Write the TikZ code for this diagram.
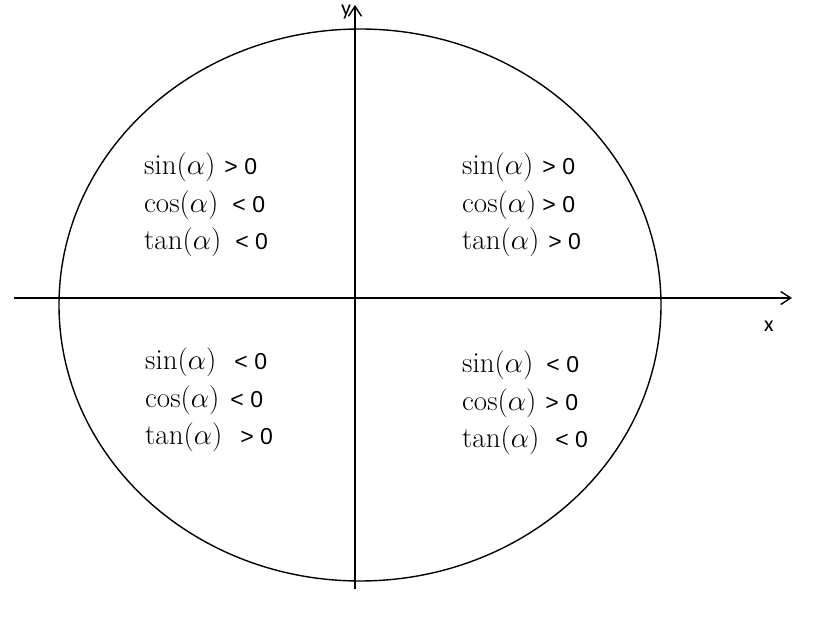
\documentclass[tikz,border=0pt]{standalone}
\usepackage{fix-cm}
\usepackage{fontspec}
\newfontfamily\signfont{Liberation Sans}
\newfontfamily\carlito{Carlito}
\usetikzlibrary{arrows.meta}
%% a trig function of alpha, set larger than the sign next to it
\newcommand{\trig}[2]{{\fontsize{29}{29}\selectfont$#1(\alpha)$}\hspace{#2pt}}
\begin{document}
\begin{tikzpicture}[x=1pt, y=1pt,
    signs/.style={font=\signfont\fontsize{23}{37.5}\selectfont, align=left,
                  inner sep=0pt, anchor=west},
    axislabel/.style={font=\carlito\fontsize{22}{24}\selectfont},
    axisline/.style={line width=1.4pt, -{Straight Barb[length=10pt,width=13pt]}}]
        \useasboundingbox (0,0) rectangle (815,619);
        \begin{scope}[shift={(0,0)}]
          %% unit circle
          \draw[line width=1.4pt] (360,314) ellipse [x radius=301, y radius=276];

          %% axis
          \coordinate (x left) at (14,321);
          \coordinate (x right) at (792,321);
          \coordinate (y bottom) at (355,30);
          \coordinate (y top) at (355,614);
          \draw[axisline] (x left) -- (x right);
          \draw[axisline] (y bottom) -- (y top);
          \node[axislabel] (x label) at (769,293) {x};
          \node[axislabel] (y label) at (346,607) {y};

          %% signs in the quadrants
          \node[signs] (quad one) at (462,414)
              {\trig{\sin}{9}> 0\\ \trig{\cos}{6}> 0\\ \trig{\tan}{9}> 0};
          \node[signs] (quad two) at (144,414)
              {\trig{\sin}{9}> 0\\ \trig{\cos}{14}< 0\\ \trig{\tan}{14}< 0};
          \node[signs] (quad three) at (145,219)
              {\trig{\sin}{18}< 0\\ \trig{\cos}{11}< 0\\ \trig{\tan}{18}> 0};
          \node[signs] (quad four) at (462,216)
              {\trig{\sin}{13}< 0\\ \trig{\cos}{9}> 0\\ \trig{\tan}{16}< 0};
        \end{scope}

        \end{tikzpicture}
\end{document}
